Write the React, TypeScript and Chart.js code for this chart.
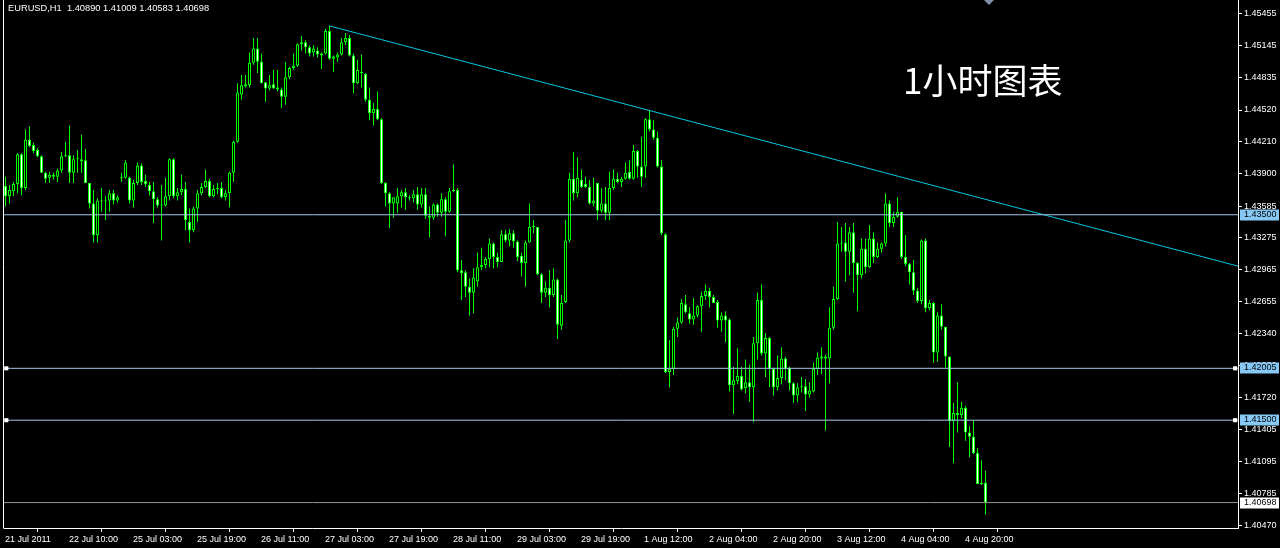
import React, { useEffect, useRef } from "react";
import { Chart, registerables } from "chart.js";

Chart.register(...registerables);

const SYMBOL = "EURUSD,H1";
const TITLE = "1小时图表";

const openP = [
1.4378,1.4368,1.4373,1.4380,1.4409,1.4376,1.4423,1.4418,1.4413,1.4407,
1.4391,1.4386,1.4389,1.4387,1.4393,1.4407,1.4408,1.4391,1.4404,1.4404,
1.4403,1.4381,1.4361,1.4330,1.4364,1.4363,1.4364,1.4371,1.4364,1.4386,
1.4386,1.4386,1.4364,1.4381,1.4398,1.4383,1.4379,1.4373,1.4365,1.4359,
1.4359,1.4368,1.4404,1.4368,1.4372,1.4375,1.4343,1.4335,1.4356,1.4371,
1.4377,1.4383,1.4368,1.4375,1.4376,1.4367,1.4371,1.4391,1.4421,1.4467,
1.4475,1.4476,1.4498,1.4512,1.4499,1.4479,1.4473,1.4477,1.4474,1.4472,
1.4465,1.4484,1.4493,1.4495,1.4516,1.4518,1.4513,1.4508,1.4510,1.4507,
1.4507,1.4529,1.4502,1.4503,1.4506,1.4518,1.4522,1.4505,1.4478,1.4489,
1.4487,1.4462,1.4449,1.4453,1.4443,1.4381,1.4371,1.4361,1.4361,1.4368,
1.4372,1.4367,1.4366,1.4370,1.4360,1.4370,1.4349,1.4347,1.4360,1.4352,
1.4365,1.4353,1.4373,1.4374,1.4296,1.4294,1.4280,1.4274,1.4285,1.4299,
1.4301,1.4307,1.4322,1.4309,1.4304,1.4331,1.4325,1.4332,1.4324,1.4310,
1.4303,1.4323,1.4338,1.4338,1.4292,1.4274,1.4279,1.4272,1.4287,1.4242,
1.4265,1.4325,1.4385,1.4371,1.4384,1.4380,1.4377,1.4361,1.4381,1.4354,
1.4361,1.4352,1.4376,1.4385,1.4382,1.4385,1.4392,1.4385,1.4412,1.4397,
1.4397,1.4443,1.4433,1.4425,1.4397,1.4331,1.4197,1.4200,1.4239,1.4245,
1.4263,1.4254,1.4248,1.4252,1.4261,1.4271,1.4276,1.4270,1.4265,1.4247,
1.4252,1.4248,1.4184,1.4188,1.4193,1.4181,1.4187,1.4182,1.4225,1.4267,
1.4215,1.4230,1.4200,1.4182,1.4191,1.4210,1.4201,1.4186,1.4174,1.4182,
1.4183,1.4175,1.4178,1.4200,1.4210,1.4212,1.4210,1.4240,1.4268,1.4322,
1.4323,1.4314,1.4333,1.4303,1.4291,1.4317,1.4299,1.4327,1.4309,1.4317,
1.4322,1.4361,1.4342,1.4348,1.4353,1.4309,1.4302,1.4294,1.4276,1.4266,
1.4325,1.4259,1.4264,1.4216,1.4252,1.4241,1.4212,1.4149,1.4157,1.4155,
1.4162,1.4138,1.4134,1.4118,1.4089,1.40890];

const highP = [
1.4387,1.4379,1.4382,1.4410,1.4410,1.4433,1.4436,1.4420,1.4415,1.4408,
1.4392,1.4392,1.4391,1.4395,1.4411,1.4421,1.4437,1.4408,1.4413,1.4428,
1.4414,1.4381,1.4374,1.4366,1.4376,1.4368,1.4374,1.4374,1.4369,1.4391,
1.4403,1.4387,1.4384,1.4401,1.4400,1.4389,1.4382,1.4382,1.4367,1.4379,
1.4386,1.4405,1.4405,1.4376,1.4389,1.4382,1.4356,1.4358,1.4374,1.4381,
1.4394,1.4385,1.4379,1.4381,1.4382,1.4374,1.4392,1.4422,1.4478,1.4486,
1.4486,1.4508,1.4522,1.4522,1.4507,1.4479,1.4486,1.4491,1.4491,1.4474,
1.4499,1.4494,1.4507,1.4517,1.4524,1.4520,1.4515,1.4515,1.4513,1.4508,
1.4531,1.4534,1.4505,1.4508,1.4522,1.4527,1.4525,1.4507,1.4501,1.4506,
1.4488,1.4474,1.4459,1.4470,1.4444,1.4382,1.4372,1.4367,1.4376,1.4374,
1.4376,1.4369,1.4374,1.4377,1.4376,1.4376,1.4358,1.4361,1.4361,1.4371,
1.4367,1.4376,1.4399,1.4376,1.4306,1.4296,1.4288,1.4298,1.4313,1.4318,
1.4309,1.4327,1.4323,1.4313,1.4335,1.4335,1.4336,1.4335,1.4325,1.4313,
1.4325,1.4361,1.4345,1.4338,1.4293,1.4285,1.4296,1.4298,1.4288,1.4272,
1.4345,1.4391,1.4411,1.4406,1.4394,1.4387,1.4384,1.4386,1.4381,1.4376,
1.4377,1.4392,1.4394,1.4391,1.4387,1.4401,1.4403,1.4418,1.4413,1.4426,
1.4444,1.4452,1.4442,1.4431,1.4403,1.4332,1.4228,1.4241,1.4250,1.4268,
1.4272,1.4260,1.4269,1.4262,1.4275,1.4282,1.4279,1.4272,1.4267,1.4255,
1.4256,1.4249,1.4202,1.4220,1.4202,1.4209,1.4204,1.4231,1.4274,1.4282,
1.4235,1.4231,1.4201,1.4213,1.4221,1.4212,1.4202,1.4187,1.4186,1.4192,
1.4190,1.4187,1.4206,1.4216,1.4221,1.4214,1.4260,1.4280,1.4343,1.4338,
1.4342,1.4338,1.4342,1.4304,1.4327,1.4327,1.4340,1.4333,1.4323,1.4323,
1.4371,1.4364,1.4353,1.4367,1.4353,1.4330,1.4303,1.4306,1.4279,1.4326,
1.4327,1.4267,1.4265,1.4255,1.4263,1.4241,1.4212,1.4167,1.4187,1.4168,
1.4164,1.4144,1.4150,1.4123,1.4111,1.41009];

const lowP = [
1.4358,1.4361,1.4368,1.4371,1.4369,1.4374,1.4416,1.4410,1.4406,1.4391,
1.4381,1.4381,1.4384,1.4382,1.4391,1.4406,1.4381,1.4381,1.4391,1.4391,
1.4381,1.4356,1.4323,1.4323,1.4353,1.4345,1.4353,1.4360,1.4362,1.4382,
1.4385,1.4361,1.4357,1.4379,1.4379,1.4377,1.4369,1.4342,1.4357,1.4325,
1.4358,1.4364,1.4366,1.4364,1.4369,1.4335,1.4323,1.4333,1.4343,1.4369,
1.4376,1.4367,1.4367,1.4370,1.4366,1.4364,1.4357,1.4382,1.4420,1.4462,
1.4474,1.4474,1.4496,1.4488,1.4478,1.4460,1.4471,1.4473,1.4470,1.4454,
1.4457,1.4482,1.4491,1.4494,1.4510,1.4507,1.4504,1.4504,1.4503,1.4492,
1.4506,1.4501,1.4489,1.4499,1.4505,1.4515,1.4504,1.4468,1.4477,1.4474,
1.4460,1.4442,1.4437,1.4442,1.4380,1.4358,1.4337,1.4347,1.4352,1.4357,
1.4355,1.4364,1.4362,1.4355,1.4357,1.4346,1.4328,1.4345,1.4348,1.4348,
1.4329,1.4352,1.4372,1.4294,1.4267,1.4270,1.4252,1.4254,1.4280,1.4296,
1.4298,1.4299,1.4298,1.4299,1.4304,1.4323,1.4319,1.4318,1.4305,1.4290,
1.4280,1.4323,1.4332,1.4291,1.4264,1.4270,1.4260,1.4270,1.4229,1.4238,
1.4264,1.4323,1.4364,1.4367,1.4376,1.4376,1.4360,1.4358,1.4345,1.4352,
1.4345,1.4345,1.4374,1.4381,1.4377,1.4384,1.4384,1.4384,1.4386,1.4377,
1.4386,1.4431,1.4423,1.4396,1.4330,1.4196,1.4182,1.4194,1.4231,1.4244,
1.4254,1.4244,1.4243,1.4250,1.4236,1.4267,1.4260,1.4264,1.4240,1.4236,
1.4226,1.4178,1.4156,1.4185,1.4179,1.4176,1.4168,1.4148,1.4209,1.4213,
1.4192,1.4182,1.4174,1.4179,1.4185,1.4189,1.4179,1.4167,1.4168,1.4177,
1.4159,1.4172,1.4177,1.4194,1.4195,1.4140,1.4186,1.4238,1.4267,1.4314,
1.4285,1.4291,1.4274,1.4256,1.4288,1.4293,1.4298,1.4303,1.4308,1.4313,
1.4319,1.4338,1.4338,1.4347,1.4307,1.4300,1.4282,1.4272,1.4264,1.4263,
1.4255,1.4257,1.4206,1.4207,1.4238,1.4201,1.4124,1.4108,1.4138,1.4152,
1.4130,1.4114,1.4117,1.4088,1.4087,1.40583];

const closeP = [
1.4368,1.4374,1.4380,1.4409,1.4376,1.4423,1.4417,1.4412,1.4407,1.4391,
1.4385,1.4389,1.4387,1.4393,1.4407,1.4408,1.4391,1.4404,1.4405,1.4402,
1.4381,1.4361,1.4330,1.4364,1.4363,1.4364,1.4371,1.4364,1.4367,1.4387,
1.4401,1.4364,1.4381,1.4398,1.4382,1.4380,1.4373,1.4365,1.4359,1.4359,
1.4368,1.4404,1.4368,1.4372,1.4375,1.4345,1.4335,1.4356,1.4371,1.4377,
1.4383,1.4368,1.4375,1.4376,1.4367,1.4371,1.4391,1.4421,1.4469,1.4476,
1.4477,1.4498,1.4512,1.4499,1.4478,1.4473,1.4476,1.4473,1.4472,1.4465,
1.4484,1.4493,1.4495,1.4516,1.4518,1.4513,1.4507,1.4512,1.4506,1.4505,
1.4529,1.4502,1.4504,1.4506,1.4518,1.4522,1.4505,1.4478,1.4491,1.4488,
1.4462,1.4449,1.4453,1.4443,1.4381,1.4371,1.4361,1.4367,1.4368,1.4372,
1.4367,1.4366,1.4370,1.4360,1.4370,1.4349,1.4347,1.4360,1.4352,1.4365,
1.4353,1.4373,1.4374,1.4296,1.4293,1.4280,1.4274,1.4289,1.4299,1.4301,
1.4307,1.4322,1.4309,1.4304,1.4331,1.4325,1.4332,1.4324,1.4309,1.4303,
1.4323,1.4338,1.4338,1.4292,1.4274,1.4279,1.4272,1.4287,1.4243,1.4264,
1.4325,1.4385,1.4371,1.4386,1.4377,1.4377,1.4361,1.4364,1.4354,1.4361,
1.4352,1.4376,1.4385,1.4382,1.4385,1.4391,1.4385,1.4412,1.4397,1.4387,
1.4443,1.4433,1.4425,1.4397,1.4332,1.4197,1.4200,1.4239,1.4245,1.4264,
1.4255,1.4248,1.4252,1.4261,1.4271,1.4276,1.4270,1.4264,1.4247,1.4252,
1.4247,1.4184,1.4189,1.4193,1.4180,1.4187,1.4182,1.4225,1.4267,1.4215,
1.4230,1.4200,1.4182,1.4191,1.4210,1.4200,1.4186,1.4174,1.4182,1.4183,
1.4175,1.4179,1.4200,1.4211,1.4212,1.4210,1.4240,1.4268,1.4322,1.4323,
1.4314,1.4333,1.4303,1.4291,1.4317,1.4299,1.4327,1.4309,1.4317,1.4322,
1.4361,1.4342,1.4348,1.4353,1.4309,1.4302,1.4294,1.4276,1.4266,1.4325,
1.4259,1.4264,1.4216,1.4252,1.4241,1.4212,1.4149,1.4157,1.4155,1.4162,
1.4138,1.4134,1.4118,1.4088,1.4088,1.40698];

const timeLabels = ["21 Jul 2011", "22 Jul 10:00", "25 Jul 03:00", "25 Jul 19:00", "26 Jul 11:00", "27 Jul 03:00", "27 Jul 19:00", "28 Jul 11:00", "29 Jul 03:00", "29 Jul 19:00", "1 Aug 12:00", "2 Aug 04:00", "2 Aug 20:00", "3 Aug 12:00", "4 Aug 04:00", "4 Aug 20:00"];
const timeLabelBars = [0, 16, 32, 48, 64, 80, 96, 112, 128, 144, 160, 176, 192, 208, 224, 240];

const priceTicks = [1.45455, 1.45145, 1.44835, 1.4452, 1.4421, 1.439, 1.43585, 1.43275, 1.42965, 1.42655, 1.4234, 1.4203, 1.4172, 1.41405, 1.41095, 1.40785, 1.4047];

const levelLines = [1.435, 1.42005, 1.415];
const levelSelected = [false, true, true];
const bidPrice = 1.40698;

const trendBars = [80.875, 308.125];
const trendPrices = [1.4534, 1.43];

const xRange = [-0.375, 308.125];
const yRange = [1.404504, 1.45591];
const anchorBars = [0.2, 307.4];

const LIME = "#00ff00";
const LEVEL_COLOR = "#a4c8ec";
const LEVEL_BOX = "#87c8f5";
const TREND_COLOR = "#00c8e2";
const BID_COLOR = "#969696";

export default function App() {
  const ref = useRef<HTMLCanvasElement | null>(null);

  useEffect(() => {
    document.body.style.margin = "0";
    document.body.style.background = "#000";
    const canvas = ref.current;
    if (!canvas) return;

    const bodyData = openP.map((o, i) => ({ x: i, y: [o, closeP[i]] }));
    const wickData = highP.map((h, i) => ({
      x: i,
      y: [Math.min(lowP[i], openP[i], closeP[i]), Math.max(h, openP[i], closeP[i])],
    }));
    const bodyFill = openP.map((o, i) => (closeP[i] > o ? "#000000" : "#ffffff"));

    const levelSets: any[] = levelLines.map((lv, k) => ({
      type: "line",
      label: "level" + k,
      data: [
        { x: xRange[0], y: lv },
        { x: anchorBars[0], y: lv },
        { x: anchorBars[1], y: lv },
        { x: xRange[1], y: lv },
      ],
      borderColor: LEVEL_COLOR,
      borderWidth: 1,
      pointRadius: levelSelected[k] ? [0, 2.9, 2.9, 0] : 0,
      pointStyle: "rect",
      pointBackgroundColor: "#ffffff",
      pointBorderWidth: 0,
      tension: 0,
      order: 0,
    }));

    const bidSet: any = {
      type: "line",
      label: "bid",
      data: [
        { x: xRange[0], y: bidPrice },
        { x: xRange[1], y: bidPrice },
      ],
      borderColor: BID_COLOR,
      borderWidth: 1,
      pointRadius: 0,
      order: 0,
    };

    const trendSet: any = {
      type: "line",
      label: "trend",
      data: trendBars.map((b, k) => ({ x: b, y: trendPrices[k] })),
      borderColor: TREND_COLOR,
      borderWidth: 1,
      pointRadius: 0,
      order: 0,
    };

    const decor = {
      id: "decor",
      beforeDraw(chart: any) {
        const { ctx, width, height } = chart;
        ctx.save();
        ctx.fillStyle = "#000";
        ctx.fillRect(0, 0, width, height);
        ctx.restore();
      },
      afterDraw(chart: any) {
        const { ctx, chartArea, scales } = chart;
        const ys = scales.y;
        const xs = scales.x;
        ctx.save();
        ctx.strokeStyle = "#ffffff";
        ctx.lineWidth = 1;
        ctx.beginPath();
        ctx.moveTo(3.5, 0);
        ctx.lineTo(3.5, chartArea.bottom + 0.5);
        ctx.stroke();

        // time labels
        ctx.fillStyle = "#ffffff";
        ctx.textAlign = "left";
        ctx.textBaseline = "alphabetic";
        ctx.font = '9px "Liberation Sans"';
        timeLabels.forEach((lab, k) => {
          const px = xs.getPixelForValue(timeLabelBars[k]);
          ctx.fillText(lab, Math.round(px) - 1, 542);
        });

        const n = openP.length - 1;
        ctx.font = '9.3px "Liberation Sans"';
        ctx.fillText(
          `${SYMBOL}  ${openP[n].toFixed(5)} ${highP[n].toFixed(5)} ${lowP[n].toFixed(5)} ${closeP[n].toFixed(5)}`,
          8,
          10.5
        );

        ctx.font = '35px "Noto Sans CJK SC"';
        ctx.fillText(TITLE, 903, 94);

        ctx.fillStyle = "#7f8fa6";
        ctx.beginPath();
        ctx.moveTo(984, 0);
        ctx.lineTo(994, 0);
        ctx.lineTo(989, 5);
        ctx.closePath();
        ctx.fill();

        const box = (price: number, bg: string) => {
          const py = ys.getPixelForValue(price);
          const top = Math.round(py) - 5.5;
          ctx.fillStyle = bg;
          ctx.fillRect(1240, top, 39, 11);
          ctx.fillStyle = "#000000";
          ctx.font = '9px "Liberation Sans"';
          ctx.textBaseline = "middle";
          ctx.fillText(price.toFixed(5), 1244, top + 5.5);
        };
        levelLines.forEach((lv) => box(lv, LEVEL_BOX));
        box(bidPrice, "#ffffff");
        ctx.restore();
      },
    };

    const chart = new Chart(canvas, {
      type: "bar",
      data: {
        datasets: [
          ...levelSets,
          bidSet,
          trendSet,
          {
            type: "bar",
            label: "body",
            data: bodyData,
            grouped: false,
            barThickness: 3,
            borderWidth: 1,
            borderColor: LIME,
            backgroundColor: bodyFill,
            borderSkipped: false,
            minBarLength: 1,
            inflateAmount: 0,
            order: 1,
          },
          {
            type: "bar",
            label: "wick",
            data: wickData,
            grouped: false,
            barThickness: 1,
            borderWidth: 0,
            backgroundColor: LIME,
            inflateAmount: 0,
            order: 2,
          },
        ] as any,
      },
      options: {
        responsive: false,
        animation: false,
        devicePixelRatio: 1,
        events: [],
        layout: { padding: { left: 4, top: 0, right: 0, bottom: 0 } },
        plugins: { legend: { display: false }, tooltip: { enabled: false } },
        scales: {
          x: {
            type: "linear",
            min: xRange[0],
            max: xRange[1],
            offset: false,
            afterBuildTicks: (s: any) => {
              s.ticks = timeLabelBars.map((v) => ({ value: v }));
            },
            afterFit: (s: any) => {
              s.height = 20;
              s.paddingLeft = 0;
              s.paddingRight = 0;
            },
            ticks: {
              display: false,
              autoSkip: false,
              maxRotation: 0,
              minRotation: 0,
              callback: (_v: any, i: number) => timeLabels[i],
            },
            grid: { drawOnChartArea: false, drawTicks: true, tickLength: 4, color: "#ffffff" },
            border: { display: true, color: "#ffffff" },
          },
          y: {
            type: "linear",
            position: "right",
            min: yRange[0],
            max: yRange[1],
            afterBuildTicks: (s: any) => {
              s.ticks = priceTicks.map((v) => ({ value: v }));
            },
            afterFit: (s: any) => {
              s.width = 42;
              s.paddingTop = 0;
              s.paddingBottom = 0;
            },
            ticks: {
              color: "#ffffff",
              autoSkip: false,
              padding: 2,
              font: { family: '"Liberation Sans", sans-serif', size: 9 },
              callback: (v: any) => Number(v).toFixed(5),
            },
            grid: { drawOnChartArea: false, drawTicks: true, tickLength: 4, color: "#ffffff" },
            border: { display: true, color: "#ffffff" },
          },
        },
      } as any,
      plugins: [decor],
    });

    return () => chart.destroy();
  }, []);

  return (
    <div style={{ width: 1280, height: 548, background: "#000", overflow: "hidden" }}>
      <canvas ref={ref} width={1280} height={548} style={{ display: "block" }} />
    </div>
  );
}
